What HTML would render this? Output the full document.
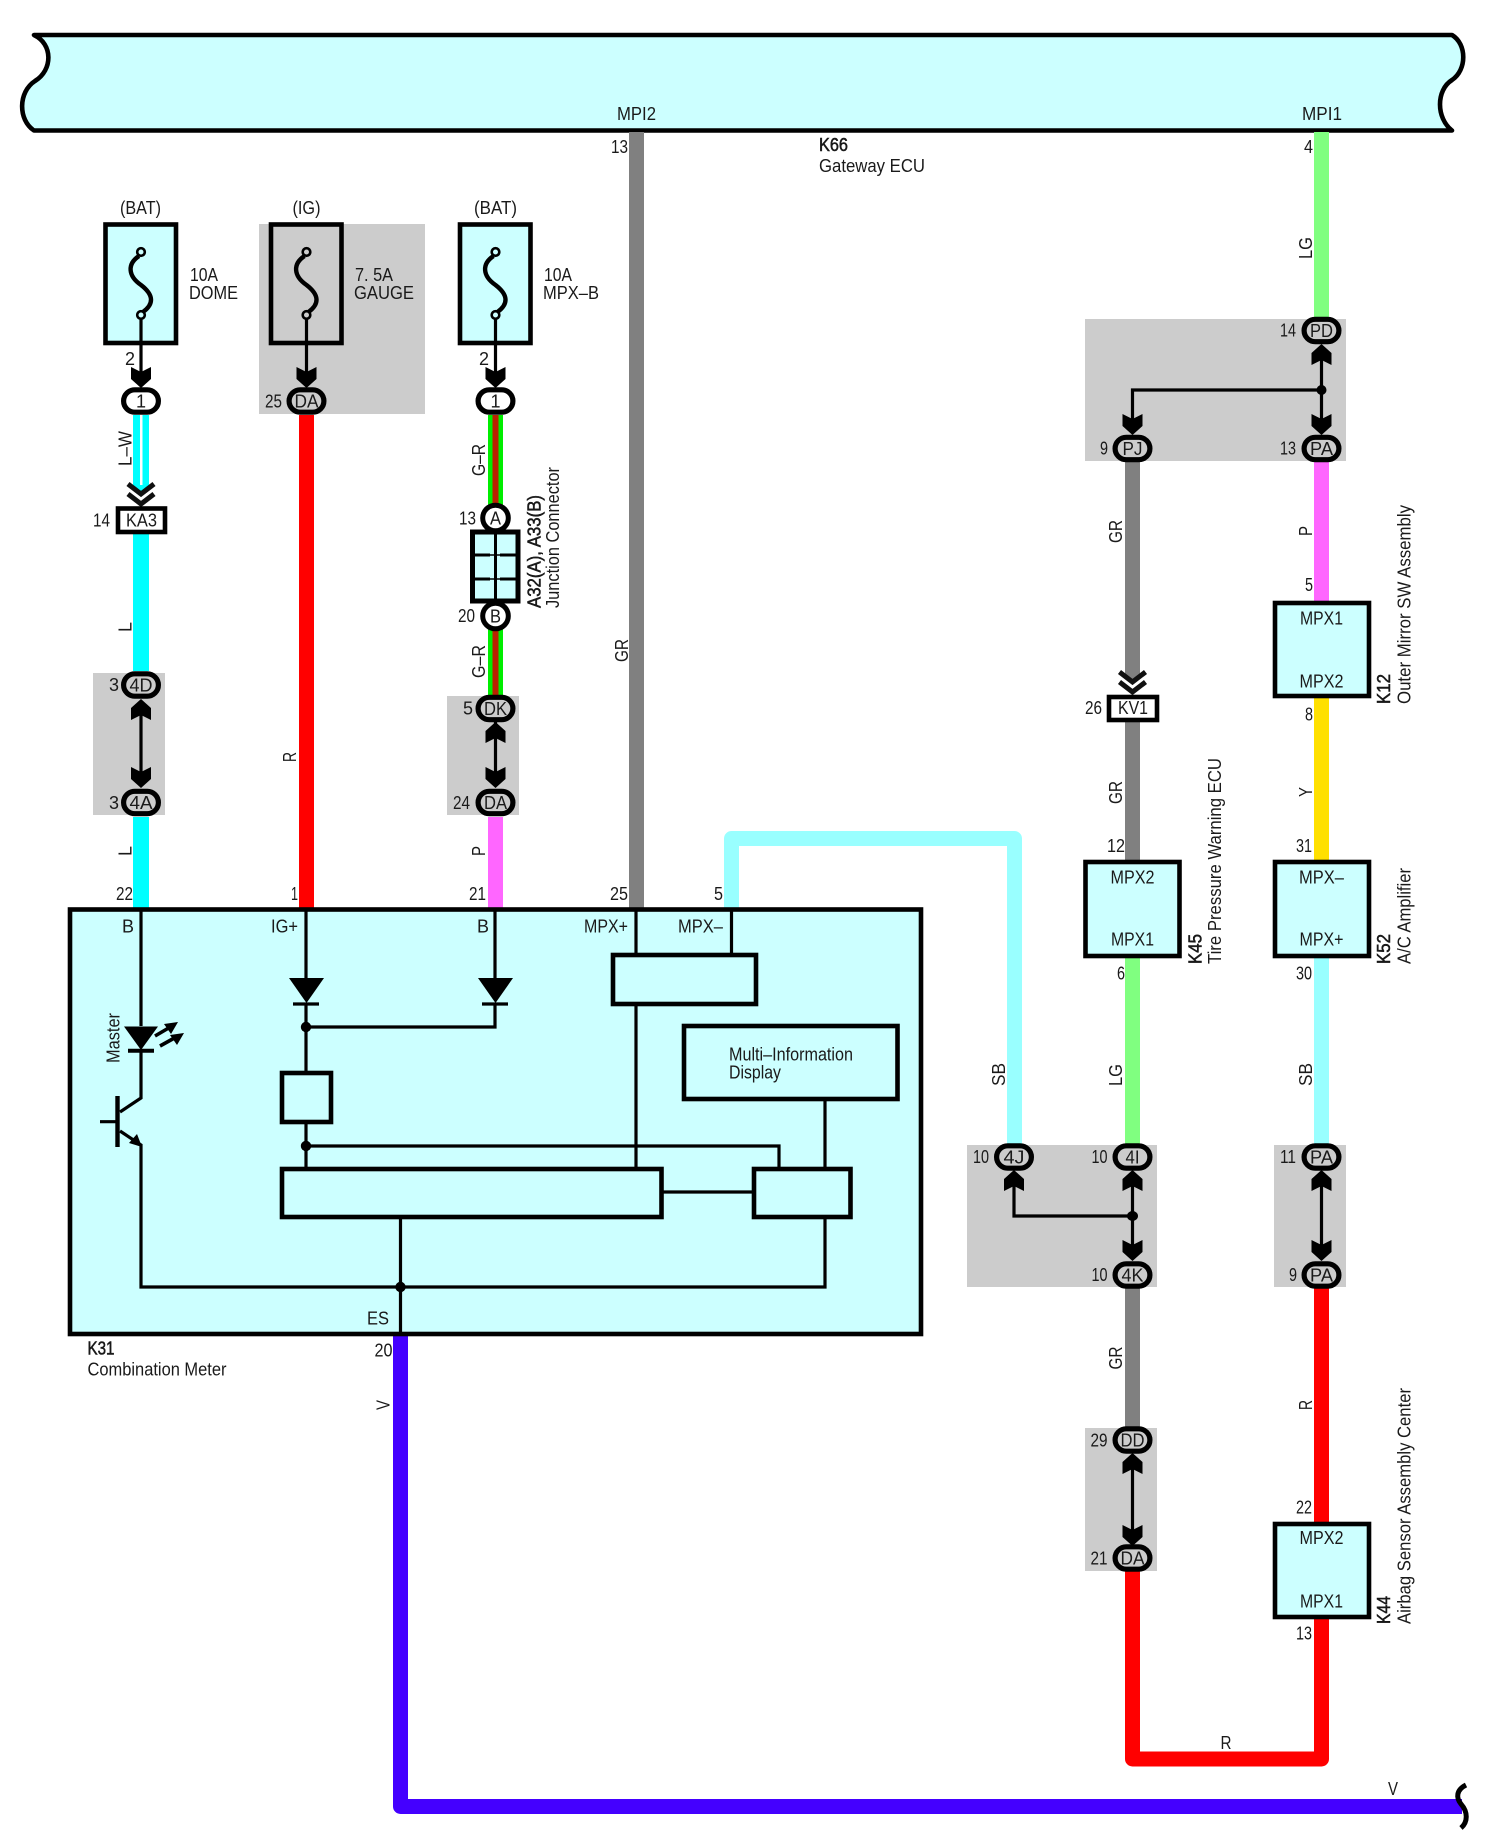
<!DOCTYPE html>
<html><head><meta charset="utf-8"><style>
html,body{margin:0;padding:0;background:#fff}
svg{display:block}
text{font-family:"Liberation Sans",sans-serif;font-size:18px;fill:#1a1a1a}
.m{text-anchor:middle}
.b{stroke:#111;stroke-width:.5}
.w{fill:none;stroke-width:15}
.l{fill:none;stroke:#000;stroke-width:3.2}
.k{fill:none;stroke:#000;stroke-width:4.6}
.f{fill:#ccffff;stroke:#000;stroke-width:4.6}
</style></head><body>
<svg width="1485" height="1848" viewBox="0 0 1485 1848" xmlns="http://www.w3.org/2000/svg">
<defs>
<polygon id="d" points="-10,-21 0,-16 10,-21 10,-9 0,0 -10,-9" fill="#000"/>
<rect id="c" x="-17.400" y="-11.200" width="34.800" height="22.400" rx="11.200" stroke="#000" stroke-width="5.200"/>
<g id="fuse">
<rect x="105.500" y="224.500" width="70.500" height="118.500" stroke="#000" stroke-width="4.600"/>
<path d="M139 256C127 264 128 276 141 285C154 295 154 304 143 312" fill="none" stroke="#000" stroke-width="4.400"/>
<circle cx="141" cy="252" r="3.800" stroke="#000" stroke-width="2.600"/>
<circle cx="141" cy="315" r="3.800" stroke="#000" stroke-width="2.600"/>
<line x1="141" y1="319" x2="141" y2="372" stroke="#000" stroke-width="3.200"/>
<use href="#d" x="141" y="388"/>
</g>
<g id="ch">
<polygon points="-14,-20 0,-10 14,-20 14,1 -14,1" fill="#fff"/>
<polyline points="-13,-22 0,-12 13,-22" fill="none" stroke="#111" stroke-width="5"/>
<polyline points="-13,-12 0,-2 13,-12" fill="none" stroke="#111" stroke-width="5"/>
</g>
</defs>

<!-- top ECU band -->
<path d="M34 35H1452C1467 44 1467 70 1452 80C1436 90 1436 118 1452 130.500H34C18 120 18 92 35 81C53 70 53 44 34 35Z" fill="#ccffff" stroke="#000" stroke-width="4.600" stroke-linejoin="round"/>

<!-- grey panels -->
<g fill="#cccccc">
<rect x="259" y="224" width="166" height="190"/>
<rect x="93" y="673" width="72" height="142"/>
<rect x="447" y="696" width="72" height="119"/>
<rect x="1085" y="319" width="261" height="142"/>
<rect x="967" y="1145" width="190" height="142"/>
<rect x="1274" y="1145" width="72" height="142"/>
<rect x="1085" y="1428" width="72" height="143"/>
</g>

<!-- wires -->
<g class="w">
<path d="M141 415V506" stroke="#00ffff" stroke-width="16" fill="none"/>
<path d="M141 534V671" stroke="#00ffff" stroke-width="16" fill="none"/>
<path d="M141 817V908" stroke="#00ffff" stroke-width="16" fill="none"/>
<path d="M306.500 415V908" stroke="#ff0000" fill="none" stroke-width="15"/>
<path d="M495.500 415V505M495.500 629V696" stroke="#00ee00" fill="none" stroke-width="15"/>
<path d="M495.500 415V505M495.500 629V696" stroke="#bb2200" fill="none" stroke-width="6"/>
<path d="M495.500 817V908" stroke="#ff66ff" fill="none" stroke-width="15"/>
<path d="M636.500 132V908" stroke="#808080" fill="none" stroke-width="15"/>
<path d="M731.500 908V838.500H1014.500V1145" stroke="#99ffff" fill="none" stroke-width="15" stroke-linejoin="round"/>
<path d="M1321.500 132V317" stroke="#80ff80" fill="none" stroke-width="15"/>
<path d="M1321.500 461V601" stroke="#ff66ff" fill="none" stroke-width="15"/>
<path d="M1321.500 698V860" stroke="#ffe000" fill="none" stroke-width="15"/>
<path d="M1321.500 958V1145" stroke="#99ffff" fill="none" stroke-width="15"/>
<path d="M1321.500 1287V1522" stroke="#ff0000" fill="none" stroke-width="15"/>
<path d="M1132.500 461V860M1132.500 1287V1428" stroke="#808080" fill="none" stroke-width="15"/>
<path d="M1132.500 958V1145" stroke="#80ff80" fill="none" stroke-width="15"/>
<path d="M1132.500 1571V1759H1321.500V1619" stroke="#ff0000" fill="none" stroke-width="15" stroke-linejoin="round"/>
<path d="M400.500 1336V1806.500H1462" stroke="#4400ff" fill="none" stroke-width="15" stroke-linejoin="round"/>
</g>
<rect x="140" y="415" width="2.500" height="70" fill="#fff"/>
<path d="M1466 1785C1456 1790 1456 1798 1461 1804C1468 1812 1468 1822 1461 1828" fill="none" stroke="#000" stroke-width="5"/>

<!-- fuses -->
<use href="#fuse" fill="#ccffff"/>
<use href="#fuse" x="165.500" fill="#cccccc"/>
<use href="#fuse" x="354.500" fill="#ccffff"/>

<!-- inline connectors with chevrons -->
<use href="#ch" x="141" y="506"/>
<rect x="118" y="508.500" width="47" height="23.500" fill="#fff" stroke="#000" stroke-width="4.600"/>
<use href="#ch" x="1132.500" y="694"/>
<rect x="1109" y="697" width="48" height="23" fill="#fff" stroke="#000" stroke-width="4.600"/>

<!-- junction connector -->
<rect x="472.500" y="532" width="45.500" height="69" fill="#ccffff" stroke="#000" stroke-width="5"/>
<path d="M495.500 532V601M473 555H490M500 555H517M473 579H490M500 579H517" fill="none" stroke="#000" stroke-width="3"/>
<path d="M488 555H503M488 579H503" fill="none" stroke="#000" stroke-width="1.500"/>
<circle cx="495.500" cy="518" r="12.800" fill="#fff" stroke="#000" stroke-width="5"/>
<circle cx="495.500" cy="616" r="12.800" fill="#fff" stroke="#000" stroke-width="5"/>

<!-- arrows between connectors -->
<g stroke="#000" stroke-width="3.200" fill="none">
<path d="M141 705V780M495.500 715V780"/>
<path d="M1321.500 350V420M1321.500 390H1132.500V420"/>
<path d="M1014 1180V1216H1132.500M1132.500 1176V1250M1321.500 1176V1250M1132.500 1460V1535"/>
</g>
<circle cx="1321.500" cy="390" r="5"/>
<ellipse cx="1132.500" cy="1216" rx="5.500" ry="5"/>
<use href="#d" transform="translate(141,699) scale(1,-1)"/>
<use href="#d" x="141" y="788"/>
<use href="#d" transform="translate(495.500,722) scale(1,-1)"/>
<use href="#d" x="495.500" y="788"/>
<use href="#d" transform="translate(1321.500,344) scale(1,-1)"/>
<use href="#d" x="1321.500" y="435"/>
<use href="#d" x="1132.500" y="435"/>
<use href="#d" transform="translate(1014,1170) scale(1,-1)"/>
<use href="#d" transform="translate(1132.500,1170) scale(1,-1)"/>
<use href="#d" x="1132.500" y="1261"/>
<use href="#d" transform="translate(1321.500,1170) scale(1,-1)"/>
<use href="#d" x="1321.500" y="1261"/>
<use href="#d" transform="translate(1132.500,1453) scale(1,-1)"/>
<use href="#d" x="1132.500" y="1546"/>

<!-- oval connectors -->
<use href="#c" x="141" y="401" fill="#fff"/>
<use href="#c" x="306.500" y="401" fill="#cccccc"/>
<use href="#c" x="495.500" y="401" fill="#fff"/>
<use href="#c" x="141" y="685" fill="#cccccc"/>
<use href="#c" x="141" y="802.500" fill="#cccccc"/>
<use href="#c" x="495.500" y="708.500" fill="#cccccc"/>
<use href="#c" x="495.500" y="802.500" fill="#cccccc"/>
<use href="#c" x="1321.500" y="330.500" fill="#cccccc"/>
<use href="#c" x="1321.500" y="448.500" fill="#cccccc"/>
<use href="#c" x="1132.500" y="448.500" fill="#cccccc"/>
<use href="#c" x="1014" y="1157" fill="#cccccc"/>
<use href="#c" x="1132.500" y="1157" fill="#cccccc"/>
<use href="#c" x="1132.500" y="1275" fill="#cccccc"/>
<use href="#c" x="1321.500" y="1157" fill="#cccccc"/>
<use href="#c" x="1321.500" y="1275" fill="#cccccc"/>
<use href="#c" x="1132.500" y="1440" fill="#cccccc"/>
<use href="#c" x="1132.500" y="1558" fill="#cccccc"/>

<!-- module boxes -->
<rect class="f" x="1275" y="603" width="94" height="93"/>
<rect class="f" x="1275" y="862" width="94" height="94"/>
<rect class="f" x="1085.500" y="862" width="94" height="94"/>
<rect class="f" x="1275" y="1524" width="94" height="93"/>

<!-- combination meter -->
<rect class="f" x="70" y="909.500" width="851" height="424.500"/>
<g class="l">
<path d="M141 909V1026M141 1050V1098L120 1112M120 1131L141 1145V1287H825V1217M825 1168V1099"/>
<path d="M306 909V978M306 1003V1072M306 1122V1168"/>
<path d="M306 1027H495V1003M495 978V909"/>
<path d="M306 1146H779V1168"/>
<path d="M636 909V955M731.500 909V955M636 1004V1168"/>
<path d="M661 1192H754"/>
<path d="M400.500 1217V1334"/>
</g>
<rect class="f" x="282" y="1073" width="49" height="49"/>
<rect class="f" x="282" y="1169" width="379.500" height="48"/>
<rect class="f" x="754" y="1169" width="96.500" height="48"/>
<rect class="f" x="613" y="955" width="143" height="49"/>
<rect class="f" x="684" y="1026" width="213.500" height="73"/>
<polygon points="289,978 324,978 306.500,1003"/>
<polygon points="478,978 513,978 495.500,1003"/>
<path d="M293 1004H319M482 1004H508" stroke="#000" stroke-width="3.200"/>
<circle cx="306" cy="1027" r="5.200"/><circle cx="306" cy="1146" r="5.200"/><circle cx="400.500" cy="1287" r="5.200"/>
<!-- LED + transistor -->
<polygon points="124,1026.500 158,1026.500 141,1050"/>
<path d="M128 1050.700H154" stroke="#000" stroke-width="4"/>
<path d="M155 1036L172 1026M160 1046L178 1036" stroke="#000" stroke-width="3.600"/>
<polygon points="178,1022 164,1024 171,1034"/>
<polygon points="184,1033 170,1035 177,1045"/>
<path d="M117.500 1096V1147" stroke="#000" stroke-width="4.400"/>
<path d="M100 1121.700H117" stroke="#000" stroke-width="3.200"/>
<polygon points="142,1147 129,1143 137,1134"/>

<!-- text: horizontal -->
<text x="617" y="120" textLength="39" lengthAdjust="spacingAndGlyphs">MPI2</text>
<text x="1302" y="120" textLength="40" lengthAdjust="spacingAndGlyphs">MPI1</text>
<text x="611" y="153" textLength="17" lengthAdjust="spacingAndGlyphs">13</text>
<text x="1304" y="153" textLength="9" lengthAdjust="spacingAndGlyphs">4</text>
<text class="b" x="819" y="151" textLength="29" lengthAdjust="spacingAndGlyphs">K66</text>
<text x="819" y="172" textLength="106" lengthAdjust="spacingAndGlyphs">Gateway ECU</text>
<text x="120" y="214" textLength="41" lengthAdjust="spacingAndGlyphs">(BAT)</text>
<text x="292.500" y="214" textLength="28" lengthAdjust="spacingAndGlyphs">(IG)</text>
<text x="474" y="214" textLength="43" lengthAdjust="spacingAndGlyphs">(BAT)</text>
<text x="190" y="281" textLength="28" lengthAdjust="spacingAndGlyphs">10A</text>
<text x="189" y="299" textLength="49" lengthAdjust="spacingAndGlyphs">DOME</text>
<text x="355" y="281" textLength="38" lengthAdjust="spacingAndGlyphs">7. 5A</text>
<text x="354" y="299" textLength="60" lengthAdjust="spacingAndGlyphs">GAUGE</text>
<text x="544" y="281" textLength="28" lengthAdjust="spacingAndGlyphs">10A</text>
<text x="543" y="299" textLength="56" lengthAdjust="spacingAndGlyphs">MPX–B</text>
<text x="125" y="365">2</text>
<text x="479" y="365">2</text>
<text x="265" y="407.500" textLength="17" lengthAdjust="spacingAndGlyphs">25</text>
<text class="m" x="141" y="407.500">1</text>
<text class="m" x="306.500" y="407.500" textLength="24" lengthAdjust="spacingAndGlyphs">DA</text>
<text class="m" x="495.500" y="407.500">1</text>
<text x="93" y="526.500" textLength="17" lengthAdjust="spacingAndGlyphs">14</text>
<text class="m" x="141.500" y="526.500" textLength="31" lengthAdjust="spacingAndGlyphs">KA3</text>
<text x="459" y="524.500" textLength="17" lengthAdjust="spacingAndGlyphs">13</text>
<text x="458" y="622" textLength="17" lengthAdjust="spacingAndGlyphs">20</text>
<text class="m" x="495.500" y="524.500" textLength="11" lengthAdjust="spacingAndGlyphs">A</text>
<text class="m" x="495.500" y="622.500" textLength="11" lengthAdjust="spacingAndGlyphs">B</text>
<text x="109" y="691">3</text>
<text x="109" y="809">3</text>
<text class="m" x="141" y="691.500" textLength="23" lengthAdjust="spacingAndGlyphs">4D</text>
<text class="m" x="141" y="809" textLength="23" lengthAdjust="spacingAndGlyphs">4A</text>
<text x="463" y="714.500">5</text>
<text x="453" y="809" textLength="17" lengthAdjust="spacingAndGlyphs">24</text>
<text class="m" x="495.500" y="715" textLength="23" lengthAdjust="spacingAndGlyphs">DK</text>
<text class="m" x="495.500" y="809" textLength="23" lengthAdjust="spacingAndGlyphs">DA</text>
<text x="116" y="900" textLength="17" lengthAdjust="spacingAndGlyphs">22</text>
<text x="291" y="900" textLength="7" lengthAdjust="spacingAndGlyphs">1</text>
<text x="469" y="900" textLength="17" lengthAdjust="spacingAndGlyphs">21</text>
<text x="610" y="900" textLength="18" lengthAdjust="spacingAndGlyphs">25</text>
<text x="714" y="900" textLength="9" lengthAdjust="spacingAndGlyphs">5</text>
<text x="122" y="932.500" textLength="12" lengthAdjust="spacingAndGlyphs">B</text>
<text x="271" y="932.500" textLength="27" lengthAdjust="spacingAndGlyphs">IG+</text>
<text x="477" y="932.500" textLength="12" lengthAdjust="spacingAndGlyphs">B</text>
<text x="584" y="932.500" textLength="44" lengthAdjust="spacingAndGlyphs">MPX+</text>
<text x="678" y="932.500" textLength="45" lengthAdjust="spacingAndGlyphs">MPX–</text>
<text x="729" y="1060.500" textLength="124" lengthAdjust="spacingAndGlyphs">Multi–Information</text>
<text x="729" y="1078.500" textLength="52" lengthAdjust="spacingAndGlyphs">Display</text>
<text x="367" y="1324.500" textLength="22" lengthAdjust="spacingAndGlyphs">ES</text>
<text x="374.500" y="1356.500" textLength="18" lengthAdjust="spacingAndGlyphs">20</text>
<text class="b" x="87.500" y="1354.500" textLength="27" lengthAdjust="spacingAndGlyphs">K31</text>
<text x="87.500" y="1375.500" textLength="139" lengthAdjust="spacingAndGlyphs">Combination Meter</text>

<text x="1280" y="336.500" textLength="16" lengthAdjust="spacingAndGlyphs">14</text>
<text x="1280" y="454.500" textLength="16" lengthAdjust="spacingAndGlyphs">13</text>
<text x="1100" y="454.500" textLength="8" lengthAdjust="spacingAndGlyphs">9</text>
<text class="m" x="1321.500" y="337" textLength="23" lengthAdjust="spacingAndGlyphs">PD</text>
<text class="m" x="1321.500" y="455" textLength="23" lengthAdjust="spacingAndGlyphs">PA</text>
<text class="m" x="1132.500" y="455" textLength="20" lengthAdjust="spacingAndGlyphs">PJ</text>
<text x="1305" y="591" textLength="8" lengthAdjust="spacingAndGlyphs">5</text>
<text x="1305" y="720.500" textLength="8" lengthAdjust="spacingAndGlyphs">8</text>
<text class="m" x="1321.500" y="624.500" textLength="43" lengthAdjust="spacingAndGlyphs">MPX1</text>
<text class="m" x="1321.500" y="687.500" textLength="44" lengthAdjust="spacingAndGlyphs">MPX2</text>
<text x="1085" y="714" textLength="17" lengthAdjust="spacingAndGlyphs">26</text>
<text class="m" x="1133" y="714" textLength="30" lengthAdjust="spacingAndGlyphs">KV1</text>
<text x="1107" y="852" textLength="18" lengthAdjust="spacingAndGlyphs">12</text>
<text x="1296" y="852" textLength="16" lengthAdjust="spacingAndGlyphs">31</text>
<text x="1117" y="979.500" textLength="8" lengthAdjust="spacingAndGlyphs">6</text>
<text x="1296" y="979.500" textLength="16" lengthAdjust="spacingAndGlyphs">30</text>
<text class="m" x="1132.500" y="883.500" textLength="44" lengthAdjust="spacingAndGlyphs">MPX2</text>
<text class="m" x="1132.500" y="945.500" textLength="43" lengthAdjust="spacingAndGlyphs">MPX1</text>
<text class="m" x="1321.500" y="883.500" textLength="45" lengthAdjust="spacingAndGlyphs">MPX–</text>
<text class="m" x="1321.500" y="945.500" textLength="44" lengthAdjust="spacingAndGlyphs">MPX+</text>
<text x="973" y="1163" textLength="16" lengthAdjust="spacingAndGlyphs">10</text>
<text x="1091.500" y="1163" textLength="16" lengthAdjust="spacingAndGlyphs">10</text>
<text x="1091.500" y="1281" textLength="16" lengthAdjust="spacingAndGlyphs">10</text>
<text x="1280" y="1163" textLength="16" lengthAdjust="spacingAndGlyphs">11</text>
<text x="1289" y="1281" textLength="8" lengthAdjust="spacingAndGlyphs">9</text>
<text class="m" x="1014" y="1163.500" textLength="21" lengthAdjust="spacingAndGlyphs">4J</text>
<text class="m" x="1132.500" y="1163.500" textLength="14" lengthAdjust="spacingAndGlyphs">4I</text>
<text class="m" x="1132.500" y="1281.500" textLength="22" lengthAdjust="spacingAndGlyphs">4K</text>
<text class="m" x="1321.500" y="1163.500" textLength="23" lengthAdjust="spacingAndGlyphs">PA</text>
<text class="m" x="1321.500" y="1281.500" textLength="23" lengthAdjust="spacingAndGlyphs">PA</text>
<text x="1090.500" y="1446.500" textLength="17" lengthAdjust="spacingAndGlyphs">29</text>
<text x="1090.500" y="1564.500" textLength="17" lengthAdjust="spacingAndGlyphs">21</text>
<text class="m" x="1132.500" y="1446.500" textLength="24" lengthAdjust="spacingAndGlyphs">DD</text>
<text class="m" x="1132.500" y="1564.500" textLength="24" lengthAdjust="spacingAndGlyphs">DA</text>
<text x="1296" y="1513.500" textLength="16" lengthAdjust="spacingAndGlyphs">22</text>
<text x="1296" y="1639.500" textLength="16" lengthAdjust="spacingAndGlyphs">13</text>
<text class="m" x="1321.500" y="1544" textLength="44" lengthAdjust="spacingAndGlyphs">MPX2</text>
<text class="m" x="1321.500" y="1607.500" textLength="43" lengthAdjust="spacingAndGlyphs">MPX1</text>
<text class="m" x="1226" y="1749" textLength="11" lengthAdjust="spacingAndGlyphs">R</text>
<text class="m" x="1393" y="1795" textLength="10" lengthAdjust="spacingAndGlyphs">V</text>

<!-- text: rotated -->
<g>
<text transform="translate(131.500,466) rotate(-90)" textLength="35" lengthAdjust="spacingAndGlyphs">L–W</text>
<text transform="translate(131.500,632) rotate(-90)" textLength="10" lengthAdjust="spacingAndGlyphs">L</text>
<text transform="translate(131.500,856) rotate(-90)" textLength="10" lengthAdjust="spacingAndGlyphs">L</text>
<text transform="translate(296,762) rotate(-90)" textLength="10" lengthAdjust="spacingAndGlyphs">R</text>
<text transform="translate(485,476) rotate(-90)" textLength="32" lengthAdjust="spacingAndGlyphs">G–R</text>
<text transform="translate(485,678) rotate(-90)" textLength="33" lengthAdjust="spacingAndGlyphs">G–R</text>
<text transform="translate(485,856) rotate(-90)" textLength="10" lengthAdjust="spacingAndGlyphs">P</text>
<text transform="translate(628,662) rotate(-90)" textLength="23" lengthAdjust="spacingAndGlyphs">GR</text>
<text class="b" transform="translate(540.700,608) rotate(-90)" textLength="113" lengthAdjust="spacingAndGlyphs">A32(A), A33(B)</text>
<text transform="translate(559,608) rotate(-90)" textLength="141" lengthAdjust="spacingAndGlyphs">Junction Connector</text>
<text transform="translate(119.500,1063) rotate(-90)" textLength="50" lengthAdjust="spacingAndGlyphs">Master</text>
<text transform="translate(389.500,1410) rotate(-90)" textLength="10" lengthAdjust="spacingAndGlyphs">V</text>
<text transform="translate(1312,259) rotate(-90)" textLength="22" lengthAdjust="spacingAndGlyphs">LG</text>
<text transform="translate(1312,536) rotate(-90)" textLength="10" lengthAdjust="spacingAndGlyphs">P</text>
<text transform="translate(1312,797) rotate(-90)" textLength="10" lengthAdjust="spacingAndGlyphs">Y</text>
<text transform="translate(1122,543) rotate(-90)" textLength="23" lengthAdjust="spacingAndGlyphs">GR</text>
<text transform="translate(1122,804) rotate(-90)" textLength="23" lengthAdjust="spacingAndGlyphs">GR</text>
<text transform="translate(1005,1086) rotate(-90)" textLength="23" lengthAdjust="spacingAndGlyphs">SB</text>
<text transform="translate(1122,1086) rotate(-90)" textLength="22" lengthAdjust="spacingAndGlyphs">LG</text>
<text transform="translate(1312,1086) rotate(-90)" textLength="23" lengthAdjust="spacingAndGlyphs">SB</text>
<text transform="translate(1122,1369.500) rotate(-90)" textLength="23" lengthAdjust="spacingAndGlyphs">GR</text>
<text transform="translate(1312,1410) rotate(-90)" textLength="10" lengthAdjust="spacingAndGlyphs">R</text>
<text class="b" transform="translate(1390,704) rotate(-90)" textLength="30" lengthAdjust="spacingAndGlyphs">K12</text>
<text transform="translate(1410.700,704) rotate(-90)" textLength="199" lengthAdjust="spacingAndGlyphs">Outer Mirror SW Assembly</text>
<text class="b" transform="translate(1201.500,964) rotate(-90)" textLength="30" lengthAdjust="spacingAndGlyphs">K45</text>
<text transform="translate(1221,964) rotate(-90)" textLength="206" lengthAdjust="spacingAndGlyphs">Tire Pressure Warning ECU</text>
<text class="b" transform="translate(1390,964) rotate(-90)" textLength="30" lengthAdjust="spacingAndGlyphs">K52</text>
<text transform="translate(1410.700,964) rotate(-90)" textLength="96" lengthAdjust="spacingAndGlyphs">A/C Amplifier</text>
<text class="b" transform="translate(1390,1624) rotate(-90)" textLength="28" lengthAdjust="spacingAndGlyphs">K44</text>
<text transform="translate(1410.700,1624) rotate(-90)" textLength="236" lengthAdjust="spacingAndGlyphs">Airbag Sensor Assembly Center</text>
</g>
</svg>
</body></html>
